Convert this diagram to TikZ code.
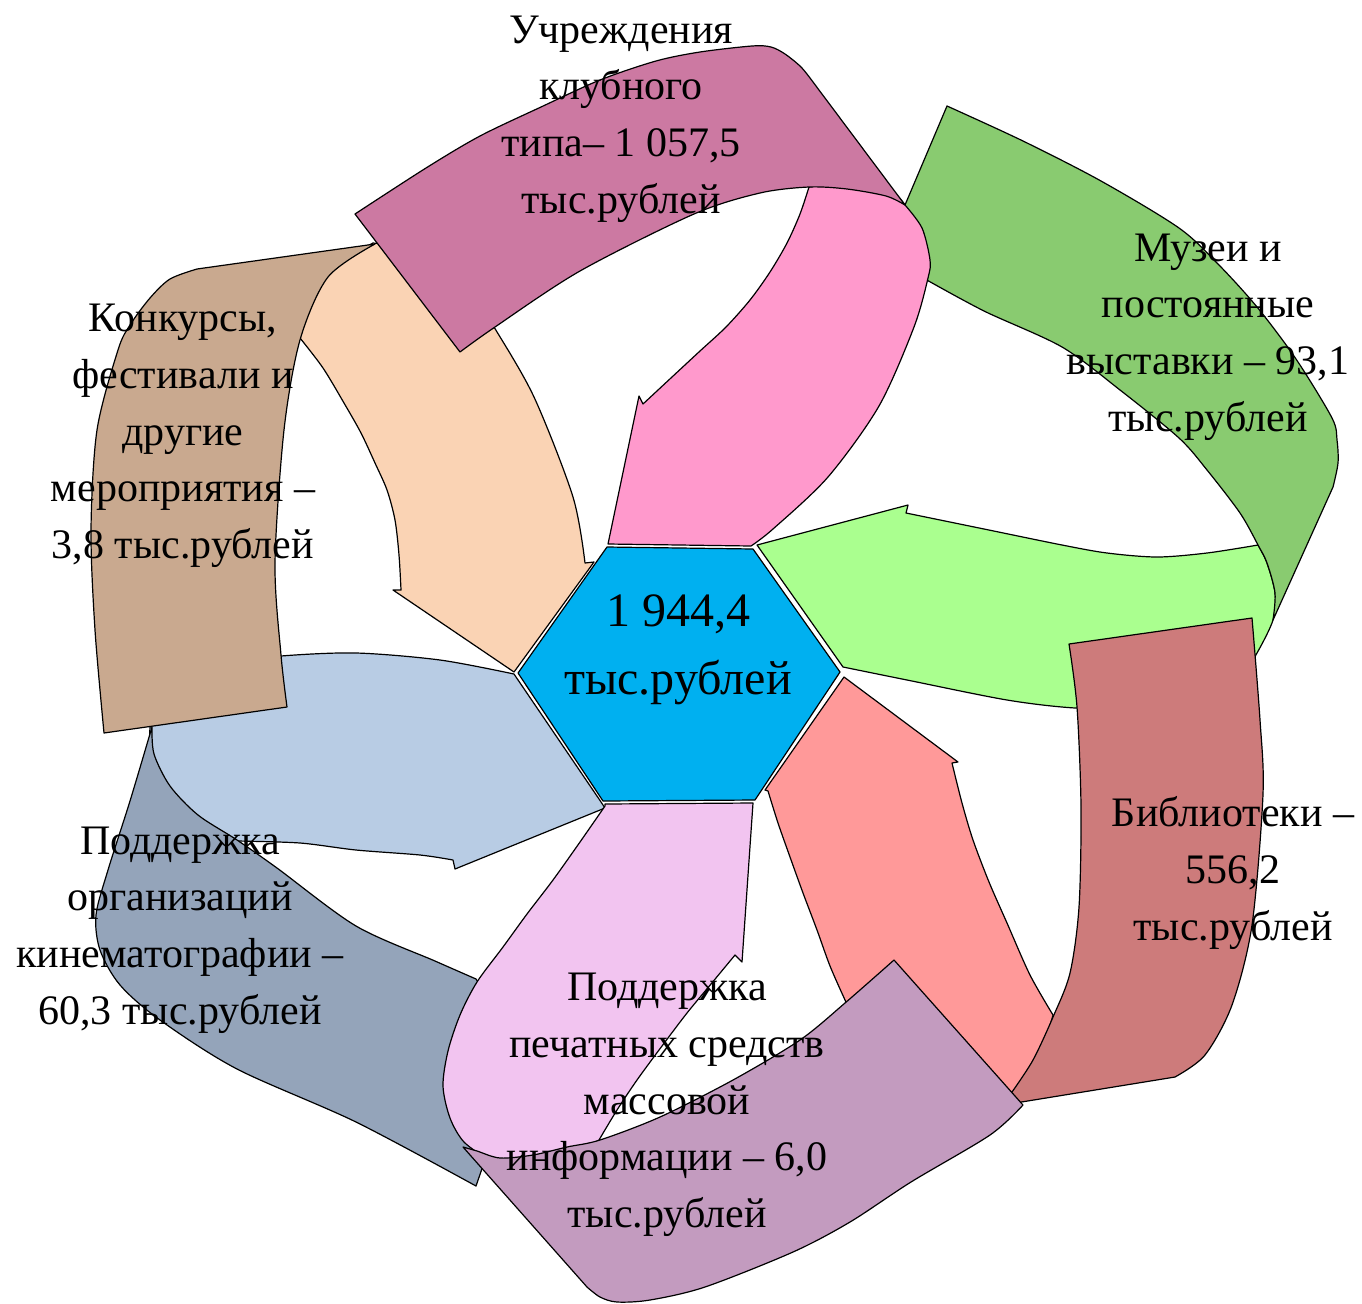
\documentclass[tikz,border=0pt]{standalone}
\usepackage{fontspec}
\setmainfont{Liberation Serif}
\definecolor{hexcol}{HTML}{00B0F0}
\definecolor{lblue}{HTML}{B8CCE4}
\definecolor{greyb}{HTML}{94A4BA}
\definecolor{beige}{HTML}{FAD3B4}
\definecolor{brownb}{HTML}{C9A98F}
\definecolor{lgreen}{HTML}{AAFF8F}
\definecolor{dgreen}{HTML}{89CB70}
\definecolor{pinka}{HTML}{FF99CC}
\definecolor{mauve}{HTML}{CC79A2}
\definecolor{salmon}{HTML}{FF9999}
\definecolor{libred}{HTML}{CD7B7B}
\definecolor{lilac}{HTML}{F2C4F0}
\definecolor{purpleb}{HTML}{C39BBF}
\tikzset{
  part/.style={draw=black, line width=0.9pt, line join=round},
  lbl/.style={font=\fontsize{31.5}{42.5}\selectfont, align=center, inner sep=0pt},
  ctr/.style={font=\fontsize{36}{51}\selectfont, align=center, inner sep=0pt}
}
\begin{document}
\begin{tikzpicture}[x=0.75pt,y=-0.75pt]
\useasboundingbox (0,0) rectangle (1362,1303);
% --- Kino arrow (light blue)
\filldraw[part, fill=lblue] (150,727) -- plot[smooth] coordinates {(150,727) (215,664) (281,656) (356,653) (440,660) (514,674)}
  -- (516,677) -- (599,799) -- (605,808) -- (455,869) -- (453,860)
  -- plot[smooth] coordinates {(453,860) (420,855) (356,850) (300,843) (237,841)}
  -- plot[smooth] coordinates {(237,841) (195,817) (166,786) (151,755) (150,727)} -- cycle;
% --- Kino band (grey)
\filldraw[part, fill=greyb] plot[smooth] coordinates {(152,727) (130,801) (108,870) (96,915) (100,950) (120,985) (160,1020) (237,1069) (356,1122) (476,1186)}
  -- (485,1160) -- (500,1130) -- (490,1000) -- (476,979)
  -- plot[smooth] coordinates {(476,979) (435,961) (356,926) (277,868) (237,840) (198,815) (170,786) (154,754) (152,727)} -- cycle;
% --- Konkursy arrow (beige)
\filldraw[part, fill=beige] plot[smooth] coordinates {(373,243) (326,276) (298,340)}
  -- plot[smooth] coordinates {(300,338) (323,368) (344,403) (361,433) (375,463) (387,490) (395,520) (399,555) (401,590)}
  -- (393,590) -- (514,672) -- (594,562) -- (585,563)
  -- plot[smooth] coordinates {(585,563) (573,497) (534,397) (494,327) (470,290)}
  -- (440,250) -- cycle;
% --- Konkursy band (brown)
\filldraw[part, fill=brownb] (375,244) -- (197,269)
  -- plot[smooth] coordinates {(197,269) (170,279) (150,298) (130,325) (118,350) (97,430) (91,530) (95,630) (104,733)}
  -- (287,707)
  -- plot[smooth] coordinates {(287,707) (281,655) (275,563) (284,430) (300,340) (328,277) (375,244)} -- cycle;
% --- Muzei arrow (light green)
\filldraw[part, fill=lgreen] plot[smooth] coordinates {(1258,545) (1207,553) (1157,557) (1107,553) (1062,545) (984,529) (906,513)}
  -- (908,505) -- (757,545) -- (843,667)
  -- plot[smooth] coordinates {(843,667) (907,680) (1007,700) (1075,708) (1140,708) (1200,698) (1240,678) (1257,653) (1273,620) (1275,593) (1267,563) (1258,545)} -- cycle;
% --- Muzei band (dark green)
\filldraw[part, fill=dgreen] (947,106) -- (905,205) -- (915,245) -- (925,279)
  -- plot[smooth] coordinates {(925,279) (984,311) (1062,347) (1120,390) (1179,438) (1207,470) (1240,513) (1258,545) (1267,563) (1275,593) (1273,620)}
  -- (1333,487)
  -- plot[smooth] coordinates {(1333,487) (1338,463) (1337,440) (1332,418) (1296,359) (1257,307) (1218,264) (1179,228) (1101,181) (1023,141) (947,106)} -- cycle;
% --- Uchrezhdeniya arrow (pink)
\filldraw[part, fill=pinka] plot[smooth] coordinates {(809,187) (855,183) (890,190) (905,205)}
  -- plot[smooth] coordinates {(905,205) (922,228) (930,260) (928,278) (914,327) (879,406) (828,477) (773,529) (751,546)}
  -- (608,544) -- (639,396) -- (643,404)
  -- plot[smooth] coordinates {(643,404) (672,377) (700,351) (726,327) (750,300) (770,272) (787,243) (800,214) (809,187)} -- cycle;
% --- Uchrezhdeniya band (mauve)
\filldraw[part, fill=mauve] (355,214) -- (460,352)
  -- plot[smooth] coordinates {(460,352) (495,327) (580,271) (694,214) (760,193) (809,187) (847,189) (886,196) (905,205)}
  -- (813,82)
  -- plot[smooth] coordinates {(813,82) (801,67) (785,54) (771,47) (752,46) (700,52) (656,61) (600,80) (541,107) (480,136) (426,168) (355,214)} -- cycle;
% --- Biblioteki arrow (salmon)
\filldraw[part, fill=salmon] (844,677) -- (958,762) -- (952,763)
  -- plot[smooth] coordinates {(952,763) (962,803) (973,840) (989,882) (1007,923) (1030,975) (1053,1015)}
  -- (1040,1062) -- (1012,1100) -- (930,1040) -- (850,1010) -- (845,1000)
  -- plot[smooth] coordinates {(845,1000) (830,966) (817,930) (803,893) (790,857) (778,823) (768,791)}
  -- (765,790) -- cycle;
% --- Biblioteki band (red)
\filldraw[part, fill=libred] (1069,644) -- (1252,618)
  -- plot[smooth] coordinates {(1252,618) (1260,720) (1263,794) (1252,925) (1232,1005) (1205,1055) (1175,1077)}
  -- (1003,1105)
  -- plot[smooth] coordinates {(1012,1092) (1033,1060) (1053,1017) (1070,973) (1079,907) (1081,807) (1077,707) (1069,644)} -- cycle;
% --- Pechat arrow (lilac)
\filldraw[part, fill=lilac] (605,804) -- (753,803) -- (742,962) -- (735,955)
  -- plot[smooth] coordinates {(735,955) (711,984) (687,1013) (662,1046) (637,1080) (617,1110) (599,1140)}
  -- (560,1162)
  -- plot[smooth] coordinates {(490,1161) (464,1142) (450,1118) (443,1086) (448,1051) (460,1015) (477,982) (503,947) (527,914) (553,880) (580,842) (605,806)} -- cycle;
% --- Pechat band (purple)
\filldraw[part, fill=purpleb] (894,960) -- (1023,1105)
  -- plot[smooth] coordinates {(1023,1105) (990,1135) (911,1182) (850,1222) (793,1252) (705,1287) (650,1300) (617,1302) (600,1297) (587,1287)}
  -- (463,1147)
  -- plot[smooth] coordinates {(463,1147) (477,1151) (500,1158) (533,1155) (567,1147) (600,1140) (660,1117) (733,1080) (800,1040) (845,1003) (894,960)} -- cycle;
% --- centre hexagon
\filldraw[part, fill=hexcol] (607,547) -- (753,549) -- (840,672) -- (755,800) -- (603,801) -- (518,673) -- cycle;
\node[ctr] (total) at (678,650) {1 944,4\\тыс.рублей};
% --- labels
\node[lbl] (uchr) at (621,119) {Учреждения\\клубного\\типа– 1 057,5\\тыс.рублей};
\node[lbl] (muz) at (1208,337) {Музеи и\\постоянные\\выставки – 93,1\\тыс.рублей};
\node[lbl] (konk) at (183,436) {Конкурсы,\\фестивали и\\другие\\мероприятия –\\3,8 тыс.рублей};
\node[lbl] (bibl) at (1233,873) {Библиотеки –\\556,2\\тыс.рублей};
\node[lbl] (kino) at (180,930) {Поддержка\\организаций\\кинематографии –\\60,3 тыс.рублей};
\node[lbl] (pech) at (667,1105) {Поддержка\\печатных средств\\массовой\\информации – 6,0\\тыс.рублей};
\end{tikzpicture}
\end{document}
